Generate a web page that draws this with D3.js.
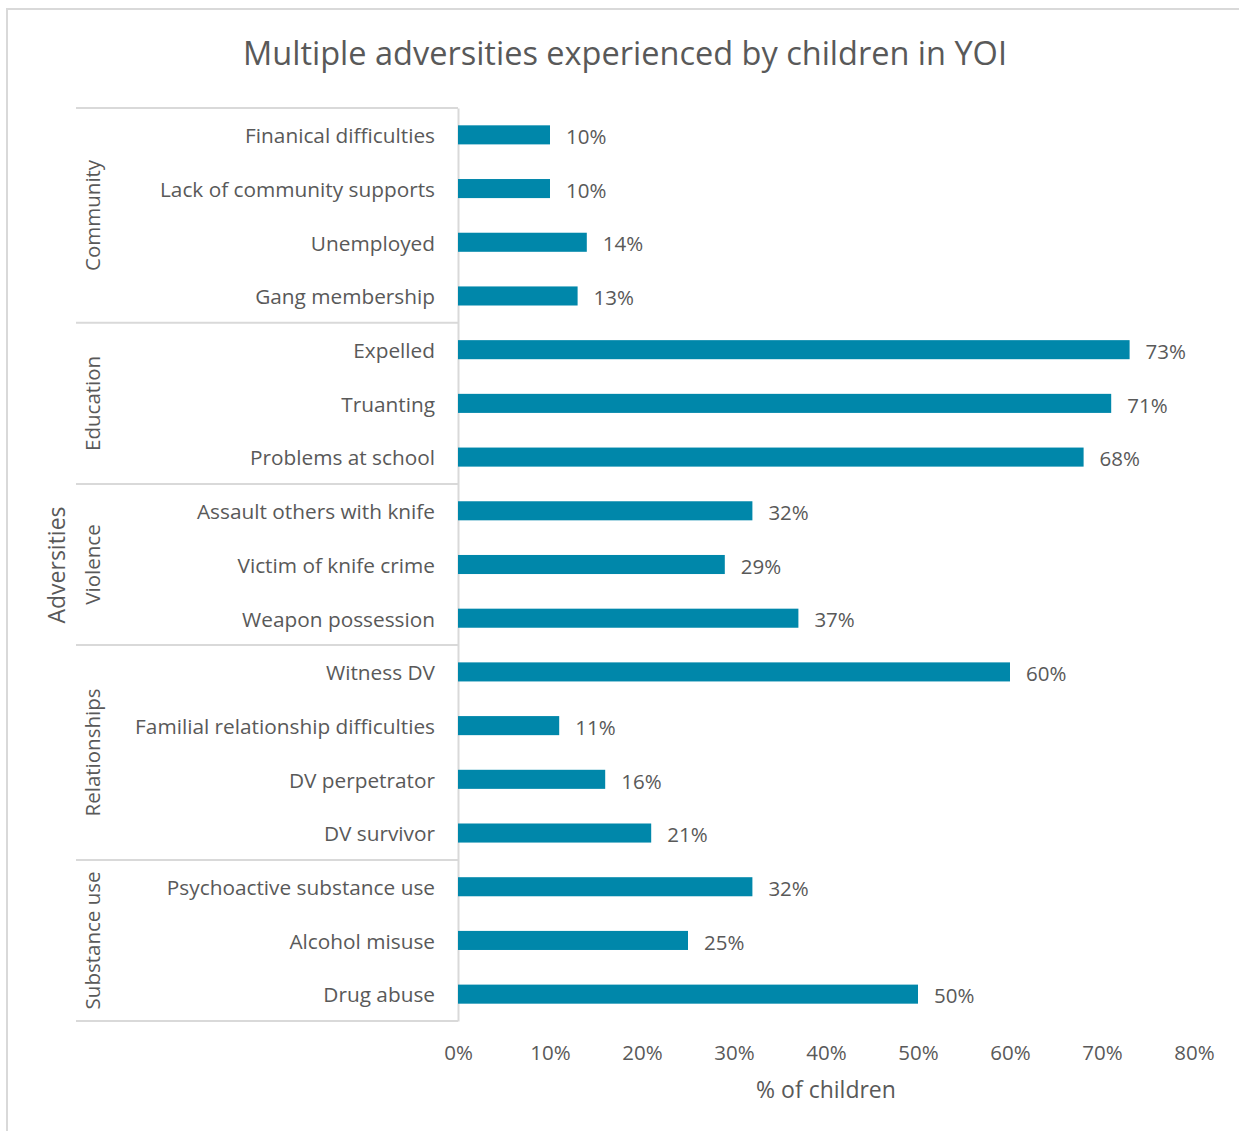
<!DOCTYPE html>
<html>
<head>
<meta charset="utf-8">
<script src="https://cdn.jsdelivr.net/npm/d3@7"></script>
<style>
  body { margin: 0; background: #fff; }
  svg { display: block; font-family: "Open Sans", sans-serif; }
</style>
</head>
<body>
<svg></svg>
<script>
var categories = ["Finanical difficulties", "Lack of community supports", "Unemployed", "Gang membership",
                  "Expelled", "Truanting", "Problems at school",
                  "Assault others with knife", "Victim of knife crime", "Weapon possession",
                  "Witness DV", "Familial relationship difficulties", "DV perpetrator", "DV survivor",
                  "Psychoactive substance use", "Alcohol misuse", "Drug abuse"];
var values = [10, 10, 14, 13, 73, 71, 68, 32, 29, 37, 60, 11, 16, 21, 32, 25, 50];
var groups = ["Community", "Education", "Violence", "Relationships", "Substance use"];
var groupSizes = [4, 3, 3, 4, 3];
var xTicks = [0, 10, 20, 30, 40, 50, 60, 70, 80];

var width = 1239, height = 1131;
var textColor = "#595959";
var lineColor = "#d9d9d9";
var barColor = "#0087aa";

var svg = d3.select("svg").attr("width", width).attr("height", height);

// chart frame
svg.append("rect")
  .attr("x", 7).attr("y", 9)
  .attr("width", width + 10).attr("height", height + 10)
  .attr("fill", "none").attr("stroke", lineColor).attr("stroke-width", 2);

var x = d3.scaleLinear().domain([0, 80]).range([458, 1194]);
var y = d3.scaleBand().domain(categories).range([108, 1021])
  .paddingInner(0.645).paddingOuter(0.3225);

svg.append("text")
  .attr("x", 625).attr("y", 65)
  .attr("text-anchor", "middle")
  .attr("font-size", 32.5)
  .attr("fill", textColor)
  .text("Multiple adversities experienced by children in YOI");

// category axis
var yAxis = svg.append("g")
  .attr("transform", "translate(458,0)")
  .call(d3.axisLeft(y).tickSize(0).tickPadding(23));
yAxis.select(".domain").attr("stroke", lineColor).attr("stroke-width", 2);
yAxis.selectAll("text").attr("font-size", 20.8).attr("fill", textColor)
  .attr("font-family", "Open Sans").attr("dy", "0.4em");

// group separators and labels
var step = y.step();
var start = 0;
var bounds = [0];
groupSizes.forEach(function(n){ start += n; bounds.push(start); });

svg.selectAll("line.sep")
  .data(bounds)
  .enter().append("line")
    .attr("class", "sep")
    .attr("x1", 76).attr("x2", 458)
    .attr("y1", function(d){ return 108 + d * step; })
    .attr("y2", function(d){ return 108 + d * step; })
    .attr("stroke", lineColor).attr("stroke-width", 2);

svg.selectAll("text.group")
  .data(groups)
  .enter().append("text")
    .attr("class", "group")
    .attr("text-anchor", "middle")
    .attr("font-size", 20.5)
    .attr("fill", textColor)
    .attr("transform", function(d, i){
      var cy = 108 + (bounds[i] + bounds[i + 1]) / 2 * step;
      return "translate(100," + cy + ") rotate(-90)";
    })
    .text(function(d){ return d; });

svg.append("text")
  .attr("text-anchor", "middle")
  .attr("font-size", 23)
  .attr("fill", textColor)
  .attr("transform", "translate(65,565) rotate(-90)")
  .text("Adversities");

// bars
svg.selectAll("rect.bar")
  .data(values)
  .enter().append("rect")
    .attr("class", "bar")
    .attr("x", x(0))
    .attr("y", function(d, i){ return y(categories[i]); })
    .attr("width", function(d){ return x(d) - x(0); })
    .attr("height", y.bandwidth())
    .attr("fill", barColor);

svg.selectAll("text.val")
  .data(values)
  .enter().append("text")
    .attr("class", "val")
    .attr("x", function(d){ return x(d) + 16; })
    .attr("y", function(d, i){ return y(categories[i]) + y.bandwidth() / 2; })
    .attr("dy", "0.45em")
    .attr("font-size", 20.5)
    .attr("fill", textColor)
    .text(function(d){ return d + "%"; });

// value axis
var xAxis = svg.append("g")
  .attr("transform", "translate(0,1045)")
  .call(d3.axisBottom(x).tickValues(xTicks).tickSize(0).tickPadding(0)
    .tickFormat(function(d){ return d + "%"; }));
xAxis.select(".domain").remove();
xAxis.selectAll("text").attr("font-size", 20.5).attr("fill", textColor).attr("font-family", "Open Sans");

svg.append("text")
  .attr("x", 826).attr("y", 1098)
  .attr("text-anchor", "middle")
  .attr("font-size", 23)
  .attr("fill", textColor)
  .text("% of children");
</script>
</body>
</html>
